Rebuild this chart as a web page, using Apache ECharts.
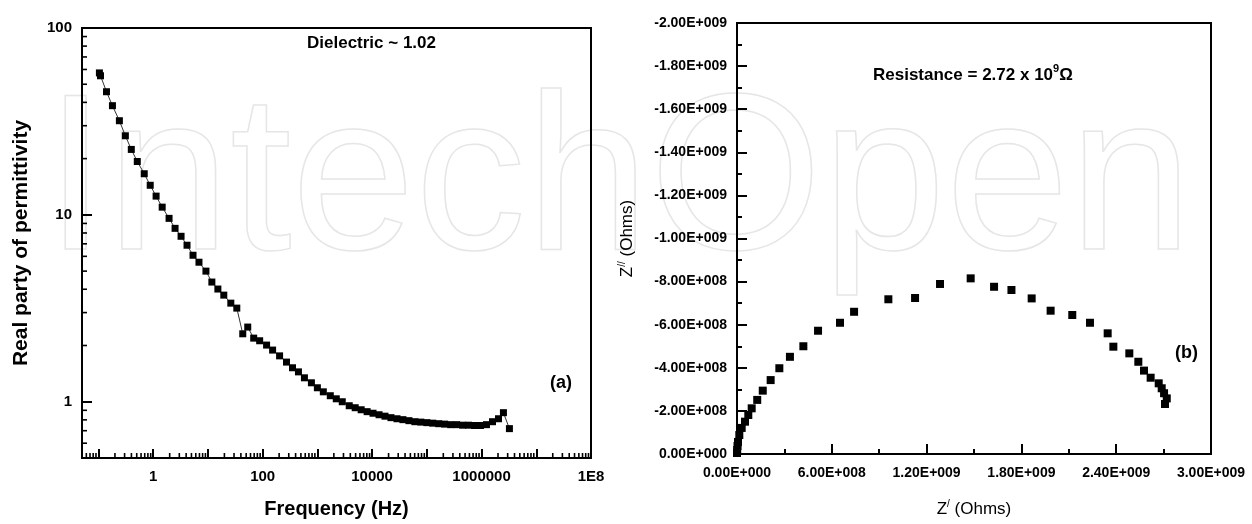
<!DOCTYPE html>
<html>
<head>
<meta charset="utf-8">
<script src="https://cdn.jsdelivr.net/npm/echarts@6/dist/echarts.min.js"></script>
<style>
  html, body { margin: 0; padding: 0; background: #fff; }
  #chart { width: 1252px; height: 524px; }
</style>
</head>
<body>
<div id="chart"></div>
<script>
// (a) real part of permittivity versus frequency
const freqHz = [0.104, 0.109, 0.140, 0.180, 0.241, 0.310, 0.398, 0.512, 0.686, 0.882,
  1.13, 1.46, 1.95, 2.51, 3.23, 4.15, 5.34, 6.86, 9.20, 11.8,
  15.2, 19.5, 26.2, 33.7, 43.3, 53.4, 68.6, 88.2, 118, 152,
  204, 273, 351, 451, 580, 778, 1000, 1285, 1722, 2215,
  2850, 3820, 4910, 6310, 8110, 10400, 13400, 17200, 22100, 28500,
  36600, 47100, 60500, 77800, 100000, 128500, 165000, 212000, 273000, 351000,
  452000, 580000, 746000, 959000, 1230000, 1585000, 2040000, 2510000, 3230000];
const permittivity = [57.5, 55.5, 45.6, 38.4, 31.9, 26.5, 22.4, 19.3, 16.6, 14.4,
  12.6, 11.0, 9.58, 8.47, 7.68, 6.88, 6.08, 5.58, 5.00, 4.37,
  4.01, 3.72, 3.37, 3.17, 2.31, 2.51, 2.19, 2.12, 2.01, 1.89,
  1.76, 1.63, 1.52, 1.445, 1.343, 1.263, 1.188, 1.13, 1.077, 1.037,
  1.0, 0.952, 0.929, 0.906, 0.885, 0.868, 0.852, 0.837, 0.822, 0.811,
  0.802, 0.792, 0.782, 0.778, 0.773, 0.768, 0.763, 0.759, 0.754, 0.754,
  0.749, 0.749, 0.746, 0.746, 0.754, 0.782, 0.811, 0.874, 0.718];

// (b) impedance plane: Z' and Z'' in ohms
const zReal = [0, 1.3e6, 3.2e6, 6.3e6, 1.46e7, 2.97e7, 5.06e7, 7.15e7, 9.3e7, 1.28e8,
  1.63e8, 2.13e8, 2.68e8, 3.35e8, 4.20e8, 5.13e8, 6.52e8, 7.41e8, 9.58e8, 1.127e9,
  1.285e9, 1.479e9, 1.627e9, 1.737e9, 1.865e9, 1.985e9, 2.122e9, 2.234e9, 2.346e9, 2.382e9,
  2.483e9, 2.540e9, 2.576e9, 2.618e9, 2.669e9, 2.688e9, 2.703e9, 2.720e9, 2.709e9];
const zImag = [-4.6e6, -1.86e7, -3.7e7, -5.6e7, -8.8e7, -1.21e8, -1.50e8, -1.81e8, -2.12e8, -2.51e8,
  -2.94e8, -3.43e8, -3.98e8, -4.51e8, -5.00e8, -5.72e8, -6.09e8, -6.60e8, -7.18e8, -7.24e8,
  -7.89e8, -8.15e8, -7.76e8, -7.61e8, -7.22e8, -6.65e8, -6.45e8, -6.09e8, -5.60e8, -4.98e8,
  -4.67e8, -4.28e8, -3.87e8, -3.54e8, -3.28e8, -3.05e8, -2.82e8, -2.58e8, -2.32e8];

// labels printed on the decades of the frequency axis
const freqTickLabels = { 0: '1', 2: '100', 4: '10000', 6: '1000000', 8: '1E8' };
const permTickLabels = { 0: '1', 1: '10', 2: '100' };
const minorMultipliers = [2, 3, 4, 5, 6, 7, 8, 9];

const FONT = "'Liberation Sans', Arial, Helvetica, sans-serif";
const BLACK = '#000';

function decadeOf(v) {
  const e = Math.log10(v);
  const r = Math.round(e);
  return Math.abs(e - r) < 1e-6 ? r : null;
}

// values like -2.00E+009
function sci(v) {
  if (Math.abs(v) < 1e-9) return '0.00E+000';
  const exp = Math.floor(Math.log10(Math.abs(v)) + 1e-9);
  const mant = v / Math.pow(10, exp);
  const e = String(Math.abs(exp)).padStart(3, '0');
  return mant.toFixed(2) + 'E' + (exp < 0 ? '-' : '+') + e;
}

// log minor tick positions between fixed limits
function logMinors(lo, hi) {
  const out = [];
  for (let d = Math.floor(Math.log10(lo)) - 1; d <= Math.ceil(Math.log10(hi)); d++) {
    minorMultipliers.forEach(m => {
      const v = m * Math.pow(10, d);
      if (v > lo * 1.0001 && v < hi * 0.9999) out.push(v);
    });
  }
  return out;
}

const X_MIN = 0.05, X_MAX = 1e8, Y_MIN = 0.5, Y_MAX = 100;

function minorTickSeries(values, dir) {
  return {
    type: 'custom',
    xAxisIndex: 0,
    yAxisIndex: 0,
    silent: true,
    clip: false,
    z: 6,
    data: values.map(v => dir === 'x' ? [v, Y_MIN] : [X_MIN, v]),
    renderItem: function (params, api) {
      const p = api.coord([api.value(0), api.value(1)]);
      const len = 5;
      const shape = dir === 'x'
        ? { x1: p[0], y1: p[1], x2: p[0], y2: p[1] - len }
        : { x1: p[0], y1: p[1], x2: p[0] + len, y2: p[1] };
      return { type: 'line', shape: shape, style: { stroke: BLACK, lineWidth: 1.6 } };
    }
  };
}

const tickLabelStyle = { color: BLACK, fontFamily: FONT, fontWeight: 'bold' };

const option = {
  backgroundColor: '#fff',
  animation: false,
  grid: [
    { left: 82, top: 28, width: 509, height: 431, show: true, borderColor: BLACK, borderWidth: 2, backgroundColor: 'transparent' },
    { left: 737, top: 23, width: 474, height: 431, show: true, borderColor: BLACK, borderWidth: 2, backgroundColor: 'transparent' }
  ],
  xAxis: [
    {
      gridIndex: 0, type: 'log', logBase: 10, min: X_MIN, max: X_MAX,
      name: 'Frequency (Hz)', nameLocation: 'middle', nameGap: 41,
      nameTextStyle: { color: BLACK, fontFamily: FONT, fontWeight: 'bold', fontSize: 20 },
      axisLine: { lineStyle: { color: BLACK, width: 2 } },
      axisTick: { inside: true, length: 9, lineStyle: { color: BLACK, width: 2 } },
      minorTick: { show: false },
      splitLine: { show: false },
      axisLabel: Object.assign({ fontSize: 15, margin: 11, showMinLabel: true, showMaxLabel: true,
        formatter: v => { const d = decadeOf(v); return d !== null && freqTickLabels[d] !== undefined ? freqTickLabels[d] : ''; } }, tickLabelStyle)
    },
    {
      gridIndex: 1, type: 'value', min: 0, max: 3e9, interval: 6e8,
      name: 'Z{s|/} (Ohms)', nameLocation: 'middle', nameGap: 45,
      nameTextStyle: { color: BLACK, fontFamily: FONT, fontSize: 17, lineHeight: 20,
        rich: { s: { fontFamily: FONT, fontSize: 10, color: BLACK, verticalAlign: 'top', lineHeight: 10 } } },
      axisLine: { lineStyle: { color: BLACK, width: 2 } },
      axisTick: { inside: true, length: 10, lineStyle: { color: BLACK, width: 2 } },
      minorTick: { show: true, splitNumber: 2, length: 5, lineStyle: { color: BLACK, width: 2 } },
      splitLine: { show: false },
      axisLabel: Object.assign({ fontSize: 14, margin: 12, formatter: sci }, tickLabelStyle)
    }
  ],
  yAxis: [
    {
      gridIndex: 0, type: 'log', logBase: 10, min: Y_MIN, max: Y_MAX,
      name: 'Real party of permittivity', nameLocation: 'middle', nameGap: 50, nameRotate: 90,
      nameTextStyle: { color: BLACK, fontFamily: FONT, fontWeight: 'bold', fontSize: 21 },
      axisLine: { lineStyle: { color: BLACK, width: 2 } },
      axisTick: { inside: true, length: 10, lineStyle: { color: BLACK, width: 2 } },
      minorTick: { show: false },
      splitLine: { show: false },
      axisLabel: Object.assign({ fontSize: 15, margin: 10,
        formatter: v => { const d = decadeOf(v); return d !== null && permTickLabels[d] !== undefined ? permTickLabels[d] : ''; } }, tickLabelStyle)
    },
    {
      gridIndex: 1, type: 'value', min: -2e9, max: 0, interval: 2e8, inverse: true,
      name: 'Z{s|//} (Ohms)', nameLocation: 'middle', nameGap: 100, nameRotate: 90,
      nameTextStyle: { color: BLACK, fontFamily: FONT, fontSize: 17, lineHeight: 20,
        rich: { s: { fontFamily: FONT, fontSize: 10, color: BLACK, verticalAlign: 'top', lineHeight: 10 } } },
      axisLine: { lineStyle: { color: BLACK, width: 2 } },
      axisTick: { inside: true, length: 10, lineStyle: { color: BLACK, width: 2 } },
      minorTick: { show: true, splitNumber: 2, length: 5, lineStyle: { color: BLACK, width: 2 } },
      splitLine: { show: false },
      axisLabel: Object.assign({ fontSize: 14, margin: 10, formatter: sci }, tickLabelStyle)
    }
  ],
  graphic: [
    {
      type: 'text', left: 44, top: 76, z: -10, silent: true,
      style: { text: 'IntechOpen', font: "222px " + FONT, fill: 'none', stroke: '#e6e6e6', lineWidth: 1.5 }
    },
    {
      type: 'text', left: 307, top: 35, z: 10,
      style: { text: 'Dielectric ~ 1.02', font: "bold 17px " + FONT, fill: BLACK }
    },
    {
      type: 'text', left: 550, top: 374, z: 10,
      style: { text: '(a)', font: "bold 18px " + FONT, fill: BLACK }
    },
    {
      type: 'text', left: 873, top: 63, z: 10,
      style: {
        text: 'Resistance = 2.72 x 10{sup|9}Ω',
        font: "bold 17px " + FONT, fill: BLACK, lineHeight: 24,
        rich: {
          sup: { font: "bold 11px " + FONT, fill: BLACK, verticalAlign: 'top', lineHeight: 11 }
        }
      }
    },
    {
      type: 'text', left: 1175, top: 344, z: 10,
      style: { text: '(b)', font: "bold 18px " + FONT, fill: BLACK }
    }
  ],
  series: [
    {
      type: 'line', xAxisIndex: 0, yAxisIndex: 0, z: 4,
      data: freqHz.map((f, i) => [f, permittivity[i]]),
      symbol: 'rect', symbolSize: 7,
      itemStyle: { color: BLACK, opacity: 1 },
      lineStyle: { color: BLACK, width: 0.8 },
      silent: true
    },
    minorTickSeries(logMinors(X_MIN, X_MAX), 'x'),
    minorTickSeries(logMinors(Y_MIN, Y_MAX), 'y'),
    {
      type: 'scatter', xAxisIndex: 1, yAxisIndex: 1, z: 4,
      data: zReal.map((x, i) => [x, zImag[i]]),
      symbol: 'rect', symbolSize: 8,
      itemStyle: { color: BLACK, opacity: 1 },
      silent: true
    }
  ]
};

const chart = echarts.init(document.getElementById('chart'), null, { renderer: 'canvas' });
chart.setOption(option);
</script>
</body>
</html>
